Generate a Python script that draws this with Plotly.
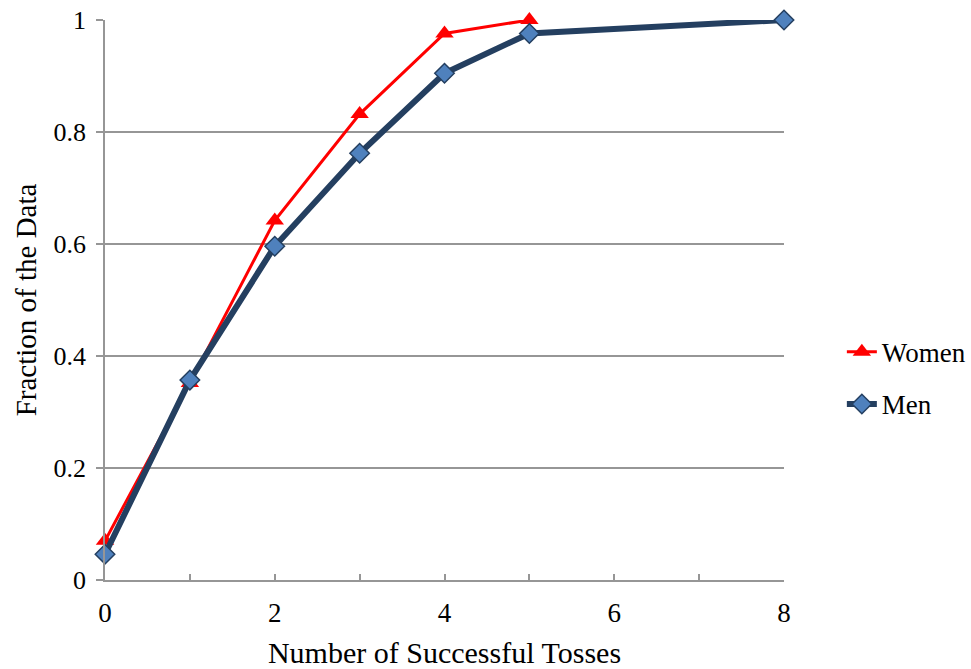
import plotly.graph_objects as go

# Cumulative fraction of participants by number of successful tosses
tosses_women = [0, 1, 2, 3, 4, 5]
fraction_women = [0.07, 0.352, 0.642, 0.832, 0.976, 1.0]

tosses_men = [0, 1, 2, 3, 4, 5, 8]
fraction_men = [0.046, 0.357, 0.596, 0.762, 0.905, 0.976, 1.0]

y_ticks = [0, 0.2, 0.4, 0.6, 0.8, 1]

FONT = "Liberation Serif, Times New Roman, serif"
GRID = "#969696"

fig = go.Figure()

fig.add_trace(go.Scatter(
    x=tosses_women, y=fraction_women, name="Women", mode="lines+markers",
    line=dict(color="#FF0000", width=3),
    marker=dict(symbol="triangle-up", size=16, color="#FF0000"),
    cliponaxis=False, legendgroup="w",
))

fig.add_trace(go.Scatter(
    x=tosses_men, y=fraction_men, name="Men", mode="lines+markers",
    line=dict(color="#243F60", width=6),
    marker=dict(symbol="diamond", size=15, color="#4F81BD",
                line=dict(color="#243F60", width=1.5)),
    cliponaxis=False, legendgroup="m",
))

fig.update_layout(
    width=971, height=669,
    margin=dict(l=105, r=187, t=20, b=89, autoexpand=False),
    paper_bgcolor="white", plot_bgcolor="white",
    font=dict(family=FONT, size=26, color="black"),
    showlegend=True,
    legend=dict(xref="container", yref="container",
                x=0.867, xanchor="left", y=0.51, yanchor="top",
                font=dict(family=FONT, size=27), tracegroupgap=14,
                bgcolor="rgba(0,0,0,0)"),
)

fig.update_xaxes(
    range=[0, 8], dtick=2, tick0=0, automargin=False,
    ticks="inside", ticklen=6, tickcolor=GRID, tickwidth=1.5,
    minor=dict(dtick=1, ticks="inside", ticklen=6, tickcolor=GRID, tickwidth=1.5),
    showline=True, linecolor=GRID, linewidth=1.5,
    showgrid=False, zeroline=False,
    tickfont=dict(family=FONT, size=27), ticklabelstandoff=8,
    title=dict(text="Number of Successful Tosses", font=dict(family=FONT, size=30), standoff=18),
)

fig.update_yaxes(
    range=[0, 1], tickvals=y_ticks, automargin=False,
    ticks="outside", ticklen=7, tickcolor=GRID, tickwidth=1.5,
    showline=True, linecolor=GRID, linewidth=1.5,
    showgrid=True, gridcolor=GRID, gridwidth=1.5, zeroline=False,
    tickfont=dict(family=FONT, size=26), ticklabelstandoff=5,
    title=dict(text="Fraction of the Data", font=dict(family=FONT, size=29), standoff=8),
)

fig.write_html("out.html")
